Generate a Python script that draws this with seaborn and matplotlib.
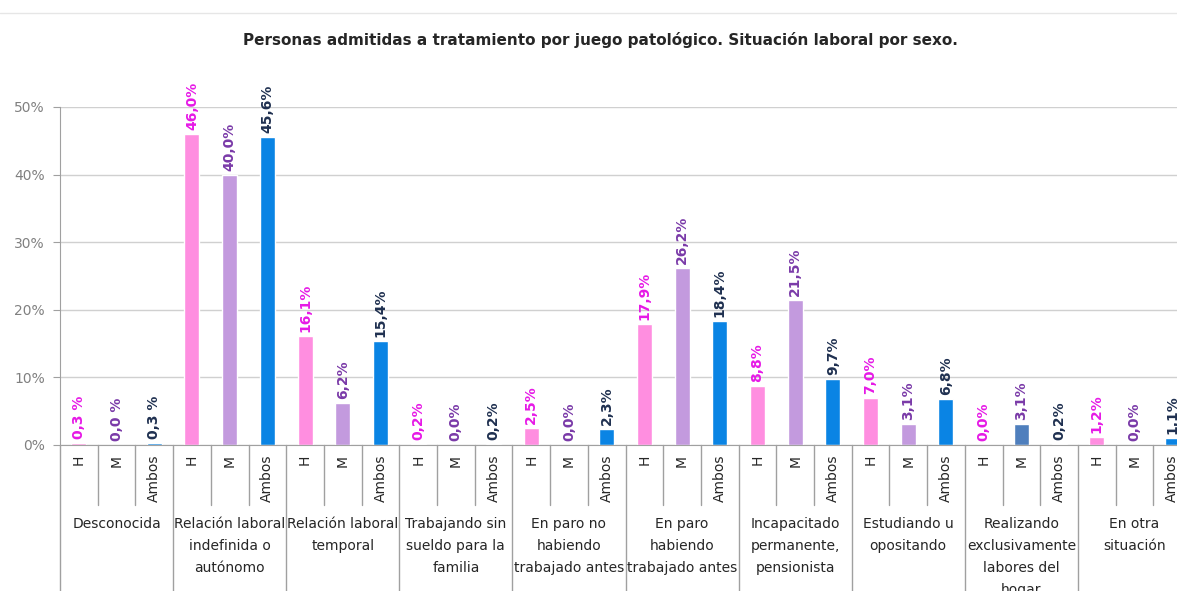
import numpy as np
import pandas as pd
import matplotlib
matplotlib.use("Agg")
import matplotlib.pyplot as plt
import matplotlib.transforms as mtransforms
import seaborn as sns

# data
grupos = ["Desconocida",
          "Relación laboral\nindefinida o\nautónomo",
          "Relación laboral\ntemporal",
          "Trabajando sin\nsueldo para la\nfamilia",
          "En paro no\nhabiendo\ntrabajado antes",
          "En paro\nhabiendo\ntrabajado antes",
          "Incapacitado\npermanente,\npensionista",
          "Estudiando u\nopositando",
          "Realizando\nexclusivamente\nlabores del\nhogar",
          "En otra\nsituación"]
series = ["H", "M", "Ambos"]
val_h = [0.3, 46.0, 16.1, 0.2, 2.5, 17.9, 8.8, 7.0, 0.0, 1.2]
val_m = [0.0, 40.0, 6.2, 0.0, 0.0, 26.2, 21.5, 3.1, 3.1, 0.0]
val_ambos = [0.3, 45.6, 15.4, 0.2, 2.3, 18.4, 9.7, 6.8, 0.2, 1.1]
etq_h = ["0,3 %", "46,0%", "16,1%", "0,2%", "2,5%", "17,9%", "8,8%", "7,0%", "0,0%", "1,2%"]
etq_m = ["0,0 %", "40,0%", "6,2%", "0,0%", "0,0%", "26,2%", "21,5%", "3,1%", "3,1%", "0,0%"]
etq_ambos = ["0,3 %", "45,6%", "15,4%", "0,2%", "2,3%", "18,4%", "9,7%", "6,8%", "0,2%", "1,1%"]

col_bar = {"H": "#ff8ee0", "M": "#c39ade", "Ambos": "#0a84e4"}
col_txt = {"H": "#e619e6", "M": "#7a3aa8", "Ambos": "#1f3050"}

vals = {"H": val_h, "M": val_m, "Ambos": val_ambos}
etqs = {"H": etq_h, "M": etq_m, "Ambos": etq_ambos}

rows = []
for g in range(len(grupos)):
    for s in series:
        rows.append({"key": f"{g}-{s}", "serie": s, "val": vals[s][g], "etq": etqs[s][g]})
df = pd.DataFrame(rows)

pal = {r.key: col_bar[r.serie] for r in df.itertuples()}
pal["8-M"] = "#4f7fbd"  # odd bar colour in the original

sns.set_style("white")
plt.rcParams["font.family"] = ["DejaVu Sans"]

W, H = 1177, 591
fig = plt.figure(figsize=(W / 100, H / 100), dpi=100)
ax = fig.add_axes([60 / W, 146 / H, 1131 / W, 338 / H])

sns.barplot(data=df, x="key", y="val", hue="key", palette=pal, width=0.4,
            legend=False, ax=ax, saturation=1)

ax.set_ylim(0, 50)
ax.set_xlim(-0.5, len(df) - 0.5)
ax.set_yticks(range(0, 51, 10))
ax.set_yticklabels([f"{t}%" for t in range(0, 51, 10)], color="#808080", fontsize=10)
ax.yaxis.grid(True, color="#d0d0d0", lw=1)
ax.set_axisbelow(True)
for sp in ["top", "right"]:
    ax.spines[sp].set_visible(False)
ax.spines["left"].set_color("#a0a0a0")
ax.spines["bottom"].set_color("#a0a0a0")
ax.tick_params(axis="y", length=5, color="#a0a0a0", pad=6, left=True)
ax.set_xlabel("")
ax.set_ylabel("")

ax.set_xticks(range(len(df)))
ax.set_xticklabels(df["serie"], rotation=90, fontsize=10, va="top")
ax.tick_params(axis="x", length=0, pad=7)

# value labels
up = mtransforms.offset_copy(ax.transData, fig=fig, x=0, y=4, units="dots")
for i, r in enumerate(df.itertuples()):
    ax.text(i, r.val, r.etq, rotation=90, ha="center", va="bottom", fontsize=10,
            fontweight="bold", color=col_txt[r.serie], transform=up, clip_on=False)

# category axis separators
trans = mtransforms.blended_transform_factory(ax.transData, ax.transAxes)
for k in range(1, len(df) + 1):
    bottom = -146 / 338 if k % 3 == 0 else -60 / 338
    ax.plot([k - 0.5, k - 0.5], [0, bottom], color="#a0a0a0", lw=1,
            transform=trans, clip_on=False)
ax.plot([-0.5, -0.5], [0, -146 / 338], color="#a0a0a0", lw=1,
        transform=trans, clip_on=False)

for g, nombre in enumerate(grupos):
    ax.text(3 * g + 1, -72 / 338, nombre, ha="center", va="top", fontsize=10,
            linespacing=1.72, transform=trans, clip_on=False)

# faint sheet border at the top
fig.add_artist(plt.Line2D([0, 1], [1 - 13 / H, 1 - 13 / H], color="#e6e6e6", lw=1))

fig.text(0.51, 1 - 40 / H, "Personas admitidas a tratamiento por juego patológico. Situación laboral por sexo.",
         ha="center", va="center", fontsize=11, fontweight="bold")

fig.savefig("out.png", dpi=100)
